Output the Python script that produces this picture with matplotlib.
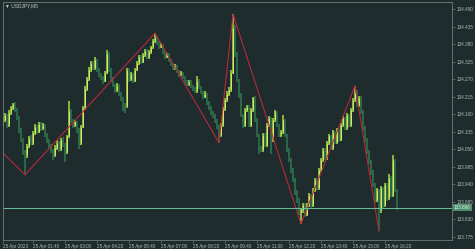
import matplotlib
matplotlib.use('Agg')
import matplotlib.pyplot as plt

# USDJPY M5, 25 Apr 2023, bars 00:25 .. 16:50
first_open = 134.130
closes = [
    134.142, 134.157, 134.126, 134.165, 134.180, 134.192, 134.173, 134.150, 134.110, 134.079,
    134.040, 134.030, 134.060, 134.085, 134.070, 134.100, 134.120, 134.105, 134.130, 134.115,
    134.125, 134.095, 134.075, 134.060, 134.045, 134.030, 134.055, 134.070, 134.050, 134.080,
    134.065, 134.040, 134.090, 134.170, 134.140, 134.125, 134.135, 134.110, 134.070, 134.120,
    134.180, 134.240, 134.270, 134.300, 134.320, 134.305, 134.330, 134.300, 134.285, 134.275,
    134.265, 134.290, 134.350, 134.300, 134.270, 134.250, 134.235, 134.250, 134.225, 134.210,
    134.190, 134.185, 134.300, 134.270, 134.285, 134.265, 134.300, 134.320, 134.340, 134.325,
    134.345, 134.360, 134.340, 134.355, 134.370, 134.390, 134.400, 134.385, 134.372, 134.378,
    134.355, 134.340, 134.348, 134.330, 134.318, 134.305, 134.312, 134.296, 134.285, 134.290,
    134.275, 134.262, 134.255, 134.262, 134.248, 134.240, 134.232, 134.265, 134.245, 134.230,
    134.215, 134.225, 134.195, 134.180, 134.165, 134.155, 134.140, 134.120, 134.095, 134.125,
    134.175, 134.205, 134.225, 134.235, 134.290, 134.430, 134.350, 134.267, 134.220, 134.157,
    134.126, 134.173, 134.183, 134.126, 134.173, 134.211, 134.142, 134.094, 134.053, 134.047,
    134.094, 134.063, 134.126, 134.148, 134.079, 134.142, 134.167, 134.126, 134.094, 134.104,
    134.142, 134.094, 134.047, 134.016, 133.984, 133.953, 133.915, 133.890, 133.852, 133.859,
    133.874, 133.843, 133.874, 133.906, 133.874, 133.921, 133.953, 133.928, 133.984, 134.016,
    134.047, 134.022, 134.069, 134.091, 134.053, 134.104, 134.072, 134.110, 134.079, 134.126,
    134.148, 134.116, 134.157, 134.126, 134.173, 134.205, 134.230, 134.189, 134.211, 134.167,
    134.116, 134.079, 134.041, 134.010, 133.978, 133.937, 133.890, 133.921, 133.859, 133.928,
    133.874, 133.937, 133.896, 133.959, 133.906, 134.016, 133.921, 133.866,
]
highs = [
    134.150, 134.165, 134.162, 134.172, 134.186, 134.196, 134.198, 134.178, 134.155, 134.115,
    134.085, 134.048, 134.066, 134.092, 134.095, 134.108, 134.128, 134.126, 134.136, 134.135,
    134.132, 134.130, 134.100, 134.082, 134.066, 134.050, 134.062, 134.078, 134.075, 134.086,
    134.088, 134.070, 134.096, 134.200, 134.176, 134.146, 134.142, 134.140, 134.115, 134.126,
    134.186, 134.248, 134.278, 134.308, 134.328, 134.326, 134.340, 134.335, 134.306, 134.290,
    134.280, 134.296, 134.362, 134.355, 134.305, 134.276, 134.255, 134.258, 134.255, 134.230,
    134.215, 134.196, 134.305, 134.306, 134.292, 134.290, 134.306, 134.326, 134.346, 134.345,
    134.352, 134.366, 134.364, 134.362, 134.376, 134.396, 134.415, 134.405, 134.390, 134.384,
    134.382, 134.360, 134.354, 134.352, 134.335, 134.322, 134.318, 134.316, 134.300, 134.296,
    134.294, 134.280, 134.266, 134.268, 134.266, 134.252, 134.245, 134.280, 134.270, 134.250,
    134.234, 134.232, 134.228, 134.200, 134.185, 134.170, 134.160, 134.145, 134.125, 134.132,
    134.182, 134.212, 134.232, 134.245, 134.300, 134.475, 134.440, 134.355, 134.272, 134.226,
    134.162, 134.180, 134.190, 134.188, 134.180, 134.214, 134.216, 134.148, 134.098, 134.060,
    134.100, 134.100, 134.132, 134.155, 134.152, 134.148, 134.173, 134.170, 134.130, 134.110,
    134.157, 134.146, 134.098, 134.052, 134.022, 133.990, 133.958, 133.920, 133.895, 133.866,
    133.882, 133.880, 133.880, 133.912, 133.910, 133.928, 133.960, 133.958, 133.990, 134.022,
    134.054, 134.052, 134.075, 134.098, 134.096, 134.110, 134.108, 134.116, 134.114, 134.132,
    134.155, 134.152, 134.163, 134.162, 134.180, 134.212, 134.249, 134.236, 134.218, 134.216,
    134.172, 134.122, 134.085, 134.046, 134.016, 133.984, 133.942, 133.928, 133.926, 133.935,
    133.932, 133.944, 133.942, 133.972, 133.964, 134.032, 134.020, 133.926,
]
lows = [
    134.120, 134.135, 134.118, 134.120, 134.158, 134.172, 134.166, 134.142, 134.102, 134.072,
    134.032, 133.969, 134.022, 134.052, 134.062, 134.064, 134.094, 134.098, 134.100, 134.108,
    134.110, 134.088, 134.068, 134.052, 134.038, 134.016, 134.025, 134.048, 134.042, 134.045,
    134.058, 134.010, 134.035, 134.085, 134.132, 134.118, 134.120, 134.102, 134.050, 134.064,
    134.115, 134.174, 134.234, 134.264, 134.294, 134.298, 134.300, 134.294, 134.278, 134.268,
    134.255, 134.260, 134.285, 134.292, 134.262, 134.244, 134.228, 134.230, 134.218, 134.202,
    134.170, 134.165, 134.180, 134.262, 134.265, 134.258, 134.260, 134.295, 134.315, 134.318,
    134.320, 134.340, 134.334, 134.335, 134.350, 134.365, 134.384, 134.378, 134.366, 134.368,
    134.348, 134.334, 134.336, 134.324, 134.312, 134.298, 134.300, 134.290, 134.278, 134.280,
    134.270, 134.256, 134.248, 134.250, 134.242, 134.234, 134.226, 134.228, 134.240, 134.224,
    134.208, 134.210, 134.188, 134.174, 134.158, 134.148, 134.132, 134.112, 134.070, 134.088,
    134.120, 134.170, 134.198, 134.218, 134.230, 134.285, 134.340, 134.260, 134.212, 134.150,
    134.115, 134.120, 134.166, 134.120, 134.120, 134.168, 134.136, 134.088, 134.035, 134.040,
    134.042, 134.056, 134.058, 134.120, 134.035, 134.072, 134.136, 134.120, 134.088, 134.088,
    134.098, 134.088, 134.040, 134.008, 133.976, 133.945, 133.906, 133.882, 133.843, 133.815,
    133.850, 133.835, 133.838, 133.868, 133.866, 133.868, 133.915, 133.920, 133.922, 133.978,
    134.010, 134.015, 134.016, 134.062, 134.046, 134.048, 134.065, 134.066, 134.072, 134.074,
    134.120, 134.110, 134.110, 134.120, 134.120, 134.168, 134.198, 134.182, 134.184, 134.160,
    134.108, 134.072, 134.034, 134.003, 133.970, 133.930, 133.882, 133.884, 133.792, 133.850,
    133.866, 133.868, 133.888, 133.890, 133.898, 133.900, 133.914, 133.858,
]

# zigzag vertices (bar index, price); first one lies left of the window
zz_idx = [-20, 11, 76, 108, 115, 149, 176, 188]
zz_price = [134.163, 133.969, 134.415, 134.070, 134.475, 133.815, 134.249, 133.792]

bid = 133.866
price_ticks = [134.490, 134.435, 134.380, 134.325, 134.270, 134.215, 134.160,
               134.105, 134.050, 133.995, 133.940, 133.885, 133.830, 133.775]
time_ticks = [0, 15, 31, 47, 63, 79, 95, 111, 127, 143, 159, 175, 191]
time_labels = ['25 Apr 2023', '25 Apr 01:40', '25 Apr 03:00', '25 Apr 04:20',
               '25 Apr 05:40', '25 Apr 07:00', '25 Apr 08:20', '25 Apr 09:40',
               '25 Apr 11:00', '25 Apr 12:20', '25 Apr 13:40', '25 Apr 15:00',
               '25 Apr 16:20']

bg = '#1e2c2d'
up_col = '#a9dc46'
up_core = '#e4f07a'
dn_col = '#2f7a50'
txt_col = '#aebbb6'
frame_col = '#6f7b79'

plt.rcParams['font.family'] = ['Liberation Sans', 'DejaVu Sans']

fig = plt.figure(figsize=(4.75, 2.49), dpi=100, facecolor=bg)
ax = fig.add_axes([2.5 / 475, 1 - 240 / 249, 449.5 / 475, 238 / 249])
ax.set_facecolor(bg)

opens = [first_open] + closes[:-1]
idx = list(range(len(closes)))
ups = [i for i in idx if closes[i] >= opens[i]]
dns = [i for i in idx if closes[i] < opens[i]]

# down bars: dark green high-low strokes
ax.vlines(dns, [lows[i] for i in dns], [highs[i] for i in dns], color=dn_col, lw=1.1)
# up bars: lime stroke with a yellow body from open to close
ax.vlines(ups, [lows[i] for i in ups], [highs[i] for i in ups], color=up_col, lw=1.1)
ax.vlines(ups, [opens[i] for i in ups], [closes[i] for i in ups], color=up_core, lw=0.6)

ax.plot(zz_idx, zz_price, color='#b8283c', lw=0.8)

ax.axhline(bid, color='#66c29a', lw=0.7)

ax.set_xlim(-0.25, 224.5)
ax.set_ylim(133.764, 134.513)

ax.yaxis.tick_right()
ax.set_yticks(price_ticks)
ax.set_yticklabels(['%.3f' % p for p in price_ticks])
ax.set_xticks(time_ticks)
ax.set_xticklabels(time_labels)
for lab in ax.get_xticklabels():
    lab.set_ha('left')
ax.tick_params(axis='both', direction='out', length=2, width=0.5,
               color=frame_col, labelcolor=txt_col, labelsize=3.3)
ax.tick_params(axis='y', pad=1.5)
ax.tick_params(axis='x', pad=1)

for s in ax.spines.values():
    s.set_color(frame_col)
    s.set_linewidth(0.6)

ax.text(1.004, bid, '%.3f' % bid, transform=ax.get_yaxis_transform(),
        ha='left', va='center', fontsize=3.3, color='#e6f5ec',
        bbox=dict(boxstyle='square,pad=0.25', fc='#4e8f6d', ec='none'))

fig.text(5 / 475, 1 - 6 / 249, '\u25bc USDJPY,M5', fontsize=3.5, color='#c2ccc9',
         ha='left', va='center')

fig.savefig('out.png', dpi=100, facecolor=bg)
